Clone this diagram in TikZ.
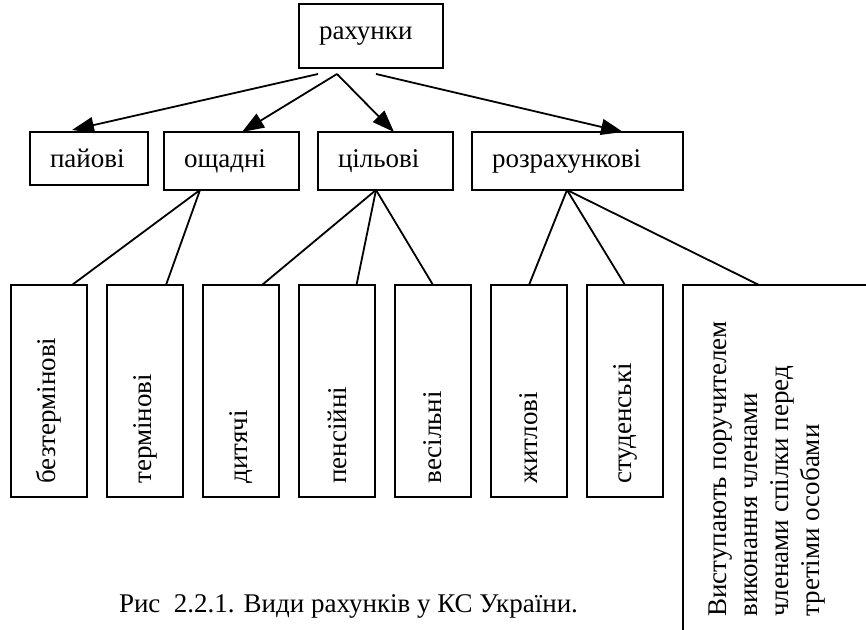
\documentclass[tikz,border=0pt]{standalone}
\usepackage{fontspec}
\setmainfont{Liberation Serif}
\usepackage{tikz}
\usetikzlibrary{arrows.meta,positioning,calc}
\tikzset{
  catbox/.style={draw,line width=0.9pt,outer sep=0pt,inner xsep=10pt,align=left,minimum height=29pt,font=\fontsize{13.5}{15.5}\selectfont},
  leafbox/.style={draw,line width=0.9pt,outer sep=0pt,inner sep=0pt,minimum width=38pt,minimum height=106pt},
  leaftext/.style={rotate=90,anchor=west,inner sep=0pt,font=\fontsize{13.5}{15.5}\selectfont},
  catarrow/.style={-{Triangle[length=11pt,width=8pt]},line width=0.9pt},
  branchline/.style={line width=0.9pt}
}

\begin{document}
\begin{tikzpicture}[x=0.5pt,y=-0.5pt,node distance=10pt]
\useasboundingbox (0,0) rectangle (866,630);
\clip (0,0) rectangle (866,630);
% top level
\node[catbox,text width=52pt,minimum height=32pt] (acc) at (371,36) {рахунки};
% kinds of accounts
\node[catbox,text width=39pt,minimum height=26.5pt,anchor=north west] (share) at (30,132) {пайові};
\node[catbox,text width=47.5pt,anchor=north west] (save) at ([xshift=8pt]share.north east) {ощадні};
\node[catbox,text width=47.5pt,anchor=north west] (goal) at ([xshift=9.5pt]save.north east) {цільові};
\node[catbox,text width=85.5pt,anchor=north west] (settle) at ([xshift=9.5pt]goal.north east) {розрахункові};
% sub-accounts
\node[leafbox] (open) at (49,391) {};
\node[leafbox,right=of open] (term) {};
\node[leafbox,right=of term] (child) {};
\node[leafbox,right=of child] (pens) {};
\node[leafbox,right=of pens] (wed) {};
\node[leafbox,right=of wed] (house) {};
\node[leafbox,right=of house] (stud) {};
\node[leafbox,anchor=north west,minimum width=120pt,minimum height=200pt] (surety) at ([xshift=10pt]stud.north east) {};
\node[leaftext] (open-t) at ($(open.south)+(0,-13)$) {безтермінові};
\node[leaftext] (term-t) at ($(term.south)+(0,-13)$) {термінові};
\node[leaftext] (child-t) at ($(child.south)+(0,-13)$) {дитячі};
\node[leaftext] (pens-t) at ($(pens.south)+(0,-13)$) {пенсійні};
\node[leaftext] (wed-t) at ($(wed.south)+(0,-13)$) {весільні};
\node[leaftext] (house-t) at ($(house.south)+(0,-13)$) {житлові};
\node[leaftext] (stud-t) at ($(stud.south)+(0,-13)$) {студенські};
\node[leaftext,anchor=north west,align=left] (surety-t) at ($(surety.north west)+(25,332)$) {Виступають поручителем\\виконання членами\\членами спілки перед\\третіми особами};
% arrows from the top box
\draw[catarrow] ($(acc.south)+(-53,6)$) -- ($(share.north)+(-17,-2)$);
\draw[catarrow] ($(acc.south)+(-34,6)$) -- ($(save.north)+(10.5,0)$);
\draw[catarrow] ($(acc.south)+(-34,6)$) -- ($(goal.north)+(8.5,0)$);
\draw[catarrow] ($(acc.south)+(5,6)$) -- ($(settle.north)+(45.5,0)$);
% branches
\draw[branchline] ($(save.south)+(-31.5,0)$) -- ($(open.north)+(23,0)$);
\draw[branchline] ($(save.south)+(-31.5,0)$) -- ($(term.north)+(21,0)$);
\draw[branchline] ($(goal.south)+(-9.5,0)$) -- ($(child.north)+(21,0)$);
\draw[branchline] ($(goal.south)+(-9.5,0)$) -- ($(pens.north)+(19.5,0)$);
\draw[branchline] ($(goal.south)+(-9.5,0)$) -- (wed.north);
\draw[branchline] ($(settle.south)+(-10.5,0)$) -- (house.north);
\draw[branchline] ($(settle.south)+(-10.5,0)$) -- (stud.north);
\draw[branchline] ($(settle.south)+(-10.5,0)$) -- ($(surety.north west)+(76,0)$);
% caption
\node[anchor=base,inner sep=0pt,font=\fontsize{13.5}{15.5}\selectfont] (caption) at (348.5,612) {Рис\ \ 2.2.1. Види рахунків у КС України.};
\end{tikzpicture}
\end{document}
